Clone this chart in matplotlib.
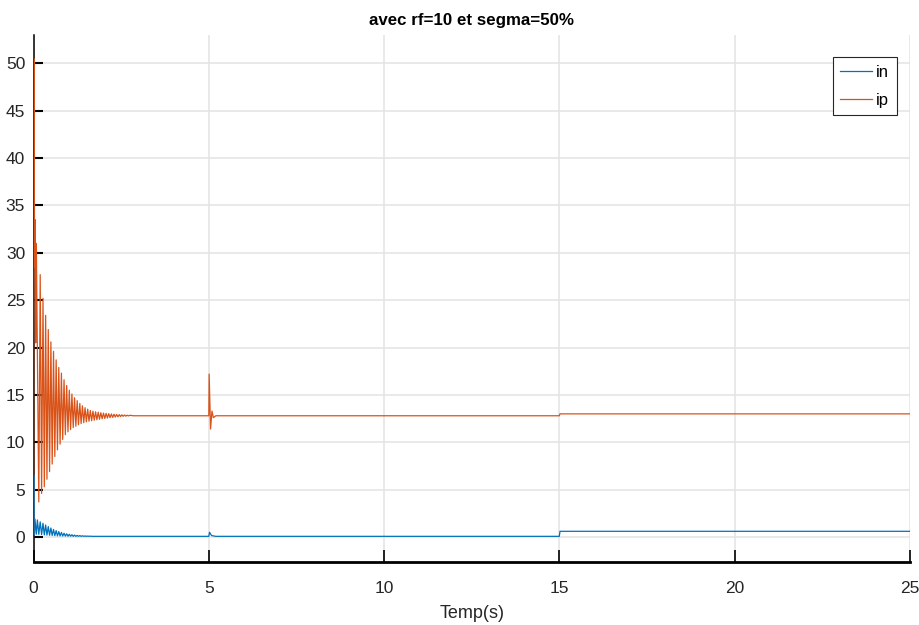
import numpy as np
import matplotlib
matplotlib.use('Agg')
from matplotlib import pyplot as plt

# --- values ---
# ip : start-up transient, then damped oscillation (troughs / peaks)
ip_start_t = [0.0, 0.012, 0.030, 0.045, 0.060, 0.080]
ip_start_v = [0.0, 50.5, 28.5, 33.5, 20.5, 31.0]

ip_trough_t = [0.15, 0.23, 0.307, 0.382, 0.457, 0.532, 0.607, 0.682, 0.757, 0.832, 0.907,
               0.982, 1.057, 1.132, 1.207, 1.282, 1.357, 1.432, 1.507, 1.582, 1.657, 1.732,
               1.807, 1.882, 1.957, 2.032, 2.107, 2.182, 2.257, 2.332, 2.407, 2.482,
               2.557, 2.632, 2.707]
ip_trough_v = [3.7, 4.6, 5.3, 6.1, 6.9, 7.7, 8.5, 9.2, 9.8, 10.3, 10.8,
               11.1, 11.35, 11.55, 11.7, 11.85, 11.97, 12.07, 12.15, 12.22, 12.28, 12.33,
               12.38, 12.43, 12.48, 12.52, 12.56, 12.6, 12.63, 12.66, 12.69, 12.72,
               12.74, 12.76, 12.78]
ip_peak_t = [0.19, 0.27, 0.345, 0.42, 0.495, 0.57, 0.645, 0.72, 0.795, 0.87, 0.945,
             1.02, 1.095, 1.17, 1.245, 1.32, 1.395, 1.47, 1.545, 1.62, 1.695, 1.77,
             1.845, 1.92, 1.995, 2.07, 2.145, 2.22, 2.295, 2.37, 2.445, 2.52,
             2.595, 2.67, 2.745]
ip_peak_v = [27.7, 25.2, 23.4, 21.9, 20.6, 19.6, 18.7, 17.9, 17.3, 16.6, 16.0,
             15.5, 15.1, 14.7, 14.4, 14.1, 13.85, 13.65, 13.5, 13.35, 13.28, 13.22,
             13.17, 13.12, 13.08, 13.05, 13.02, 12.99, 12.96, 12.94, 12.92, 12.9,
             12.88, 12.86, 12.85]
# disturbance at 5 s and load step at 15 s
ip_tail_t = [2.85, 5.0, 5.01, 5.05, 5.09, 5.13, 5.2, 15.0, 15.02, 25.0]
ip_tail_v = [12.8, 12.8, 17.2, 11.4, 13.3, 12.6, 12.8, 12.8, 13.0, 13.0]

# in
in_start_t = [0.0, 0.012, 0.025]
in_start_v = [0.0, 6.5, 0.3]
in_peak_t = [0.04, 0.11, 0.19, 0.27, 0.345, 0.42, 0.495, 0.57, 0.645, 0.72, 0.795,
             0.87, 0.945, 1.02, 1.095, 1.17, 1.245, 1.32, 1.395, 1.47, 1.545, 1.62]
in_peak_v = [1.9, 1.8, 1.6, 1.45, 1.27, 1.1, 0.95, 0.8, 0.67, 0.57, 0.48,
             0.4, 0.34, 0.29, 0.24, 0.2, 0.17, 0.15, 0.13, 0.11, 0.1, 0.09]
in_trough_t = [0.08, 0.15, 0.23, 0.307, 0.382, 0.457, 0.532, 0.607, 0.682, 0.757, 0.832,
               0.907, 0.982, 1.057, 1.132, 1.207, 1.282, 1.357, 1.432, 1.507, 1.582, 1.657]
in_trough_v = [0.3, 0.28, 0.25, 0.22, 0.2, 0.18, 0.16, 0.14, 0.12, 0.11, 0.1,
               0.09, 0.08, 0.08, 0.07, 0.07, 0.07, 0.07, 0.07, 0.07, 0.07, 0.07]
in_tail_t = [2.0, 5.0, 5.02, 5.08, 5.2, 15.0, 15.02, 25.0]
in_tail_v = [0.07, 0.07, 0.5, 0.15, 0.07, 0.07, 0.6, 0.6]


def build(start_t, start_v, a_t, a_v, b_t, b_v, tail_t, tail_v):
    osc = sorted(zip(a_t + b_t, a_v + b_v))
    t = start_t + [p[0] for p in osc] + tail_t
    v = start_v + [p[1] for p in osc] + tail_v
    return np.array(t), np.array(v)


t_ip, ip = build(ip_start_t, ip_start_v, ip_trough_t, ip_trough_v,
                 ip_peak_t, ip_peak_v, ip_tail_t, ip_tail_v)
t_in, i_n = build(in_start_t, in_start_v, in_peak_t, in_peak_v,
                  in_trough_t, in_trough_v, in_tail_t, in_tail_v)

plt.rcParams['font.family'] = ['Liberation Sans', 'DejaVu Sans']

fig = plt.figure(figsize=(9.19, 6.25), dpi=100)
ax = fig.add_axes([0.0365, 0.1008, 0.9535, 0.8432])

ax.plot(t_in, i_n, color='#0072BD', lw=0.9, label='in', zorder=3)
ax.plot(t_ip, ip, color='#D95319', lw=0.9, label='ip', zorder=3)

ax.set_xlim(0, 25)
ax.set_ylim(-2.64, 53.0)
ax.set_xticks([0, 5, 10, 15, 20, 25])
ax.set_yticks(np.arange(0, 51, 5))
ax.grid(True, color='#e3e3e3', lw=1.1)
ax.set_axisbelow(True)

for s in ['top', 'right']:
    ax.spines[s].set_visible(False)
ax.spines['left'].set_linewidth(1.1)
ax.spines['bottom'].set_linewidth(2.0)

ax.tick_params(axis='y', direction='in', length=6.5, width=1.5, pad=6,
               labelsize=12.5, labelcolor='#262626')
ax.tick_params(axis='x', direction='in', length=9, width=1.2, pad=14,
               labelsize=12.5, labelcolor='#262626')

ax.set_xlabel('Temp(s)', fontsize=13, color='#262626', labelpad=6)
ax.set_title('avec rf=10 et segma=50%', fontsize=12.2, fontweight='bold', pad=7)

leg = ax.legend(loc='upper right', bbox_to_anchor=(0.985, 0.958), borderaxespad=0,
                fontsize=12, fancybox=False, framealpha=1, edgecolor='#262626',
                handlelength=1.9, borderpad=0.45, labelspacing=0.8, handletextpad=0.25)
leg.get_frame().set_linewidth(0.8)

fig.savefig('out.png', dpi=100)
